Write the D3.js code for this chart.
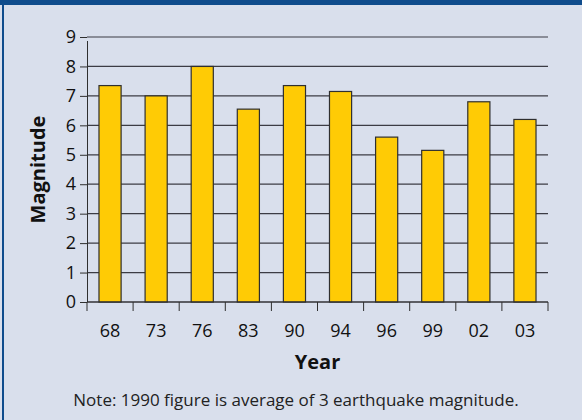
<!DOCTYPE html>
<html>
<head>
<meta charset="utf-8">
<script src="https://cdn.jsdelivr.net/npm/d3@7"></script>
<style>
  body { margin: 0; background: #d9dfec; }
  svg { display: block; font-family: "Open Sans", "Noto Sans", sans-serif; }
</style>
</head>
<body>
<div id="chart"></div>
<script>
const years = ["68", "73", "76", "83", "90", "94", "96", "99", "02", "03"];
const magnitudes = [7.35, 7.0, 8.0, 6.55, 7.35, 7.15, 5.6, 5.15, 6.8, 6.2];
const yTicks = [0, 1, 2, 3, 4, 5, 6, 7, 8, 9];
const note = "Note: 1990 figure is average of 3 earthquake magnitude.";

const W = 582, H = 420;
const margin = { top: 37, right: 34, bottom: 118, left: 87 };

const svg = d3.select("#chart").append("svg")
    .attr("width", W)
    .attr("height", H);

// panel background + frame
svg.append("rect").attr("width", W).attr("height", H).attr("fill", "#d9dfec");
svg.append("rect").attr("x", 0).attr("y", 0).attr("width", W).attr("height", 5).attr("fill", "#0f4c8c");
svg.append("rect").attr("x", 2).attr("y", 0).attr("width", 2).attr("height", H).attr("fill", "#0f4c8c");

const x = d3.scaleBand()
    .domain(years)
    .range([margin.left, W - margin.right])
    .paddingInner(0.52)
    .paddingOuter(0.26);

const y = d3.scaleLinear()
    .domain([0, 9])
    .range([H - margin.bottom, margin.top]);

// gridlines
svg.append("g")
  .selectAll("line")
  .data(yTicks)
  .join("line")
    .attr("x1", margin.left)
    .attr("x2", W - margin.right)
    .attr("y1", d => y(d))
    .attr("y2", d => y(d))
    .attr("stroke", "#3c3c44")
    .attr("stroke-width", 1.2);

// bars
svg.append("g")
  .selectAll("rect")
  .data(magnitudes)
  .join("rect")
    .attr("x", (d, i) => x(years[i]))
    .attr("y", d => y(d))
    .attr("width", x.bandwidth())
    .attr("height", d => y(0) - y(d))
    .attr("fill", "#ffcb05")
    .attr("stroke", "#2f2f2f")
    .attr("stroke-width", 1.2);

// y axis
const yAxis = svg.append("g")
    .attr("transform", `translate(${margin.left},0)`)
    .call(d3.axisLeft(y).tickValues(yTicks).tickSize(7).tickSizeOuter(0).tickPadding(4));
yAxis.attr("font-family", null).attr("font-size", null);
yAxis.select(".domain").attr("stroke", "#2f2f2f").attr("d", `M0.5,${y(9) + 4}V${y(0)}`);
yAxis.selectAll(".tick line").attr("stroke", "#2f2f2f");
yAxis.selectAll(".tick text")
    .style("font-size", "18px")
    .attr("fill", "#111");

// x axis: tick marks at band edges
const edges = years.map(d => x(d) - x.step() * x.paddingInner() / 2);
edges.push(W - margin.right);
const xAxis = svg.append("g");
xAxis.append("line")
    .attr("x1", margin.left).attr("x2", W - margin.right)
    .attr("y1", y(0)).attr("y2", y(0))
    .attr("stroke", "#2f2f2f").attr("stroke-width", 1.2);
xAxis.selectAll("line.tk")
  .data(edges)
  .join("line")
    .attr("class", "tk")
    .attr("x1", d => d).attr("x2", d => d)
    .attr("y1", y(0)).attr("y2", y(0) + 9)
    .attr("stroke", "#2f2f2f");
xAxis.selectAll("text")
  .data(years)
  .join("text")
    .attr("x", d => x(d) + x.bandwidth() / 2)
    .attr("y", y(0) + 29)
    .attr("dy", "0.35em")
    .attr("text-anchor", "middle")
    .style("font-size", "18px")
    .attr("fill", "#111")
    .text(d => d);

// axis titles
svg.append("text")
    .attr("x", (margin.left + W - margin.right) / 2)
    .attr("y", 362)
    .attr("dy", "0.35em")
    .attr("text-anchor", "middle")
    .style("font-size", "20px")
    .attr("font-weight", "bold")
    .attr("fill", "#111")
    .text("Year");

svg.append("text")
    .attr("transform", `translate(38,${(y(0) + y(9)) / 2}) rotate(-90)`)
    .attr("dy", "0.35em")
    .attr("text-anchor", "middle")
    .style("font-size", "20px")
    .attr("font-weight", "bold")
    .attr("fill", "#111")
    .text("Magnitude");

svg.append("text")
    .attr("x", 296)
    .attr("y", 400)
    .attr("dy", "0.35em")
    .attr("text-anchor", "middle")
    .style("font-size", "17px")
    .attr("fill", "#222")
    .text(note);
</script>
</body>
</html>
